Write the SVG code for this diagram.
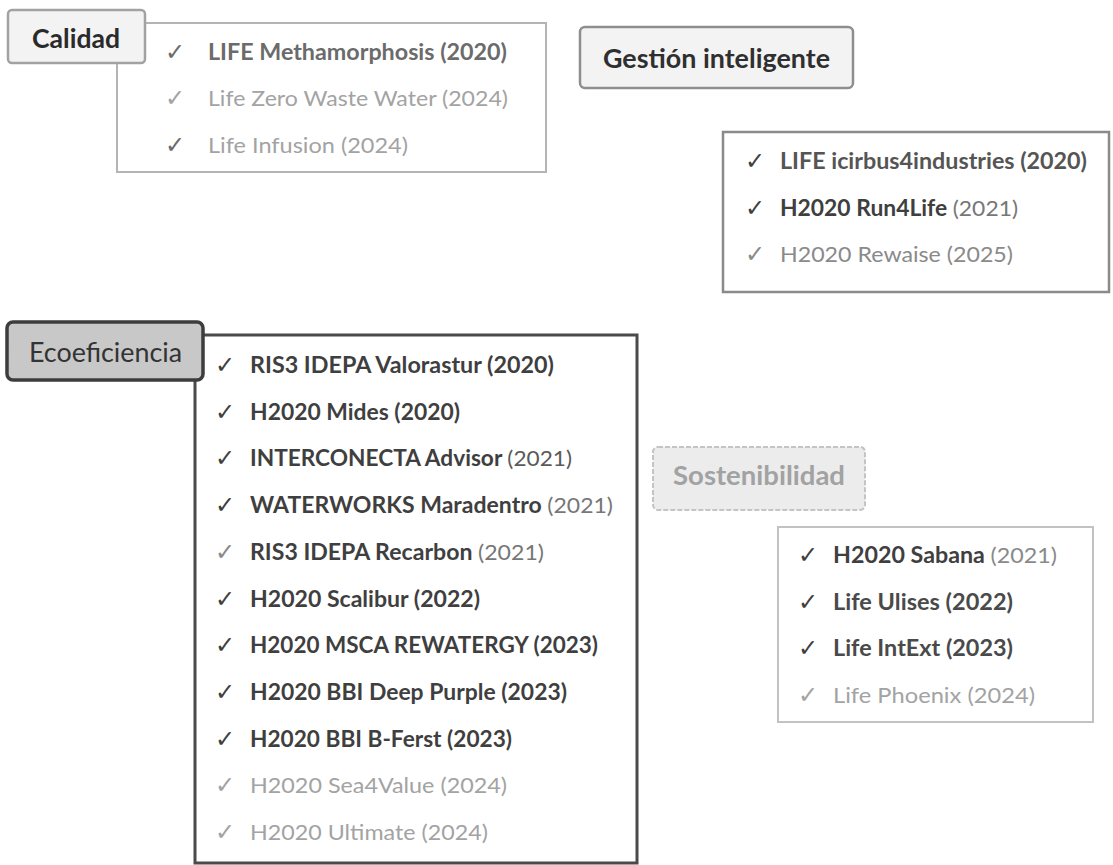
<svg xmlns="http://www.w3.org/2000/svg" width="1113" height="865" viewBox="0 0 1113 865">
<style>
.t{font-family:Lato,"Open Sans","Liberation Sans",sans-serif;font-size:22px}
.b{font-weight:700}
.r{font-weight:400}
.ck{font-family:"DejaVu Sans",sans-serif;font-size:24px}
.lbl{font-family:Lato,"Open Sans","Liberation Sans",sans-serif;font-weight:700;font-size:26px}
.dk{fill:#3f3f3f}
.md{fill:#6b6b6b}
.lt{fill:#a3a3a3}
.yr{fill:#777777;font-weight:400}
</style>
<rect width="1113" height="865" fill="#ffffff"/>
<g id="connectors"></g>

<g id="calidad">
<rect x="117" y="23" width="429" height="149" fill="#ffffff" stroke="#b4b4b4" stroke-width="2"/>
<rect x="8" y="10" width="137" height="53" rx="4" fill="#f3f3f3" stroke="#a2a2a2" stroke-width="2.5"/>
<text class="lbl" x="32" y="48" fill="#2a2a2a" textLength="88" lengthAdjust="spacingAndGlyphs">Calidad</text>
<text class="ck md" x="165" y="60">✓</text>
<text class="t b md" x="208" y="60" textLength="299" lengthAdjust="spacingAndGlyphs">LIFE Methamorphosis (2020)</text>
<text class="ck lt" x="165" y="106">✓</text>
<text class="t r lt" x="208" y="106" textLength="300" lengthAdjust="spacingAndGlyphs">Life Zero Waste Water (2024)</text>
<text class="ck md" x="165" y="153">✓</text>
<text class="t r lt" x="208" y="153" textLength="200" lengthAdjust="spacingAndGlyphs">Life Infusion (2024)</text>
</g>

<g id="gestion">
<rect x="580" y="27" width="273" height="61" rx="5" fill="#f3f3f3" stroke="#8e8e8e" stroke-width="2.5"/>
<text class="lbl" x="603" y="68" fill="#2f2f2f" textLength="227" lengthAdjust="spacingAndGlyphs">Gestión inteligente</text>
<rect x="723" y="132" width="386" height="160" fill="#ffffff" stroke="#8a8a8a" stroke-width="2.5"/>
<text class="ck dk" x="745" y="169">✓</text>
<text class="t b" fill="#555555" x="780" y="169" textLength="307" lengthAdjust="spacingAndGlyphs">LIFE icirbus4industries (2020)</text>
<text class="ck dk" x="745" y="215.5">✓</text>
<text class="t b dk" x="780" y="215.5" textLength="238" lengthAdjust="spacingAndGlyphs">H2020 Run4Life <tspan class="yr">(2021)</tspan></text>
<text class="ck" fill="#8a8a8a" x="745" y="262">✓</text>
<text class="t r" fill="#8a8a8a" x="780" y="262" textLength="233" lengthAdjust="spacingAndGlyphs">H2020 Rewaise (2025)</text>
</g>

<g id="ecoeficiencia">
<rect x="195" y="335" width="442" height="528" fill="#ffffff" stroke="#4a4a4a" stroke-width="3"/>
<rect x="7" y="322" width="196" height="58" rx="6" fill="#c8c8c8" stroke="#3d3d3d" stroke-width="3.5"/>
<text class="lbl" x="29" y="362" fill="#333333" style="font-weight:400" textLength="153" lengthAdjust="spacingAndGlyphs">Ecoeficiencia</text>
<text class="ck dk" x="215" y="373">✓</text>
<text class="t b dk" x="250" y="373" textLength="304" lengthAdjust="spacingAndGlyphs">RIS3 IDEPA Valorastur (2020)</text>
<text class="ck dk" x="215" y="419.7">✓</text>
<text class="t b dk" x="250" y="419.7" textLength="210" lengthAdjust="spacingAndGlyphs">H2020 Mides (2020)</text>
<text class="ck dk" x="215" y="466.4">✓</text>
<text class="t b dk" x="250" y="466.4" textLength="322" lengthAdjust="spacingAndGlyphs">INTERCONECTA Advisor <tspan class="yr" style="fill:#5a5a5a">(2021)</tspan></text>
<text class="ck dk" x="215" y="513.1">✓</text>
<text class="t b dk" x="250" y="513.1" textLength="363" lengthAdjust="spacingAndGlyphs">WATERWORKS Maradentro <tspan class="yr">(2021)</tspan></text>
<text class="ck" fill="#8a8a8a" x="215" y="559.8">✓</text>
<text class="t b dk" x="250" y="559.8" textLength="294" lengthAdjust="spacingAndGlyphs">RIS3 IDEPA Recarbon <tspan class="yr">(2021)</tspan></text>
<text class="ck dk" x="215" y="606.5">✓</text>
<text class="t b dk" x="250" y="606.5" textLength="230" lengthAdjust="spacingAndGlyphs">H2020 Scalibur (2022)</text>
<text class="ck dk" x="215" y="653.2">✓</text>
<text class="t b dk" x="250" y="653.2" textLength="348" lengthAdjust="spacingAndGlyphs">H2020 MSCA REWATERGY (2023)</text>
<text class="ck dk" x="215" y="699.9">✓</text>
<text class="t b dk" x="250" y="699.9" textLength="317" lengthAdjust="spacingAndGlyphs">H2020 BBI Deep Purple (2023)</text>
<text class="ck dk" x="215" y="746.6">✓</text>
<text class="t b dk" x="250" y="746.6" textLength="262" lengthAdjust="spacingAndGlyphs">H2020 BBI B-Ferst (2023)</text>
<text class="ck lt" x="215" y="793.3">✓</text>
<text class="t r lt" x="250" y="793.3" textLength="257" lengthAdjust="spacingAndGlyphs">H2020 Sea4Value (2024)</text>
<text class="ck lt" x="215" y="840">✓</text>
<text class="t r lt" x="250" y="840" textLength="238" lengthAdjust="spacingAndGlyphs">H2020 Ultimate (2024)</text>
</g>

<g id="sostenibilidad">
<rect x="653" y="447" width="212" height="63" rx="5" fill="#ececec" stroke="#c4c4c4" stroke-width="2" stroke-dasharray="5 2"/>
<text class="lbl" x="673" y="485" fill="#a2a2a2" textLength="172" lengthAdjust="spacingAndGlyphs">Sostenibilidad</text>
<rect x="778" y="527" width="315" height="195" fill="#ffffff" stroke="#c2c2c2" stroke-width="2"/>
<text class="ck dk" x="798" y="563">✓</text>
<text class="t b dk" x="833" y="563" textLength="224" lengthAdjust="spacingAndGlyphs">H2020 Sabana <tspan class="yr" style="fill:#8a8a8a">(2021)</tspan></text>
<text class="ck dk" x="798" y="609.5">✓</text>
<text class="t b" fill="#4a4a4a" x="833" y="609.5" textLength="180" lengthAdjust="spacingAndGlyphs">Life Ulises (2022)</text>
<text class="ck dk" x="798" y="656">✓</text>
<text class="t b" fill="#4a4a4a" x="833" y="656" textLength="180" lengthAdjust="spacingAndGlyphs">Life IntExt (2023)</text>
<text class="ck lt" x="798" y="702.5">✓</text>
<text class="t r lt" x="833" y="702.5" textLength="202" lengthAdjust="spacingAndGlyphs">Life Phoenix (2024)</text>
</g>
</svg>
